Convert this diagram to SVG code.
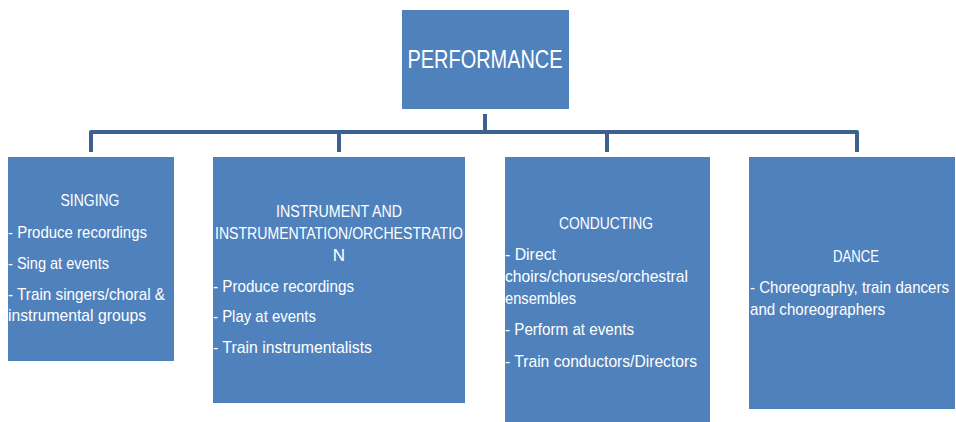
<svg xmlns="http://www.w3.org/2000/svg" width="956" height="422" viewBox="0 0 956 422">
<style>
.box{fill:#4F81BD}
.t{fill:#FFFFFF;font-family:"Liberation Sans",Arial,sans-serif;font-size:17px}
.c{text-anchor:middle}
.big{font-size:25px}
.con{fill:none;stroke:#3C6191;stroke-width:4;stroke-linejoin:round}
</style>
<rect width="956" height="422" fill="#FFFFFF"/>
<g id="connectors">
<path class="con" d="M485 114V132M91 152V132H857V152M339 132V152M607 132V152"/>
</g>
<g id="performance">
<rect class="box" x="402" y="10" width="167" height="99"/>
<text class="t c big" x="485" y="68" textLength="155" lengthAdjust="spacingAndGlyphs">PERFORMANCE</text>
</g>
<g id="singing">
<rect class="box" x="8" y="157" width="166" height="204"/>
<text class="t c" x="90" y="206" textLength="59" lengthAdjust="spacingAndGlyphs">SINGING</text>
<text class="t" x="8" y="238" textLength="139" lengthAdjust="spacingAndGlyphs">- Produce recordings</text>
<text class="t" x="8" y="269" textLength="101" lengthAdjust="spacingAndGlyphs">- Sing at events</text>
<text class="t" x="8" y="300" textLength="157" lengthAdjust="spacingAndGlyphs">- Train singers/choral &amp;</text>
<text class="t" x="8" y="321" textLength="138" lengthAdjust="spacingAndGlyphs">instrumental groups</text>
</g>
<g id="instrument">
<rect class="box" x="213" y="157" width="252" height="246"/>
<text class="t c" x="339" y="217" textLength="126" lengthAdjust="spacingAndGlyphs">INSTRUMENT AND</text>
<text class="t c" x="339" y="239" textLength="248" lengthAdjust="spacingAndGlyphs">INSTRUMENTATION/ORCHESTRATIO</text>
<text class="t c" x="339" y="261">N</text>
<text class="t" x="213" y="292" textLength="141" lengthAdjust="spacingAndGlyphs">- Produce recordings</text>
<text class="t" x="213" y="322" textLength="103" lengthAdjust="spacingAndGlyphs">- Play at events</text>
<text class="t" x="213" y="353" textLength="159" lengthAdjust="spacingAndGlyphs">- Train instrumentalists</text>
</g>
<g id="conducting">
<rect class="box" x="505" y="157" width="205" height="265"/>
<text class="t c" x="606" y="229" textLength="94" lengthAdjust="spacingAndGlyphs">CONDUCTING</text>
<text class="t" x="505" y="260" textLength="51" lengthAdjust="spacingAndGlyphs">-  Direct</text>
<text class="t" x="505" y="282" textLength="183" lengthAdjust="spacingAndGlyphs">choirs/choruses/orchestral</text>
<text class="t" x="505" y="304" textLength="71" lengthAdjust="spacingAndGlyphs">ensembles</text>
<text class="t" x="505" y="335" textLength="129" lengthAdjust="spacingAndGlyphs">- Perform at events</text>
<text class="t" x="505" y="367" textLength="192" lengthAdjust="spacingAndGlyphs">- Train conductors/Directors</text>
</g>
<g id="dance">
<rect class="box" x="749" y="157" width="206" height="252"/>
<text class="t c" x="856" y="262" textLength="46" lengthAdjust="spacingAndGlyphs">DANCE</text>
<text class="t" x="750" y="293" textLength="199" lengthAdjust="spacingAndGlyphs">-   Choreography, train dancers</text>
<text class="t" x="750" y="315" textLength="135" lengthAdjust="spacingAndGlyphs">and choreographers</text>
</g>
</svg>
